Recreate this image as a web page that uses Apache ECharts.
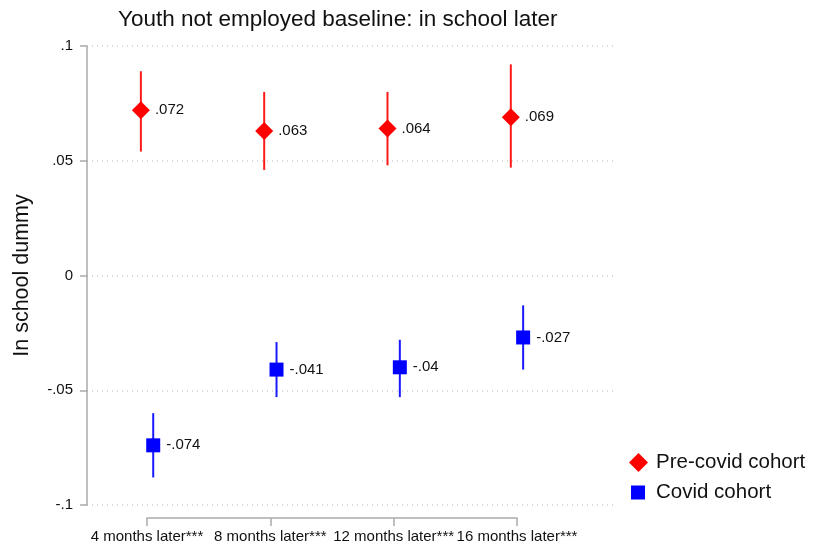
<!DOCTYPE html>
<html lang="en">
  <head>
    <meta charset="UTF-8" />
    <title>Youth not employed baseline: in school later</title>
    <script src="https://cdn.jsdelivr.net/npm/echarts@6/dist/echarts.min.js"></script>
    <style>
      html, body { margin: 0; padding: 0; background: #fff; }
      #box { width: 815px; height: 552px; }
    </style>
  </head>
  <body>
    <div id="box"></div>
  </body>
  <script>
    // categories and estimates
    var categories = ["4 months later***", "8 months later***", "12 months later***", "16 months later***"];
    var preCoef = [0.072, 0.063, 0.064, 0.069];
    var preLow = [0.054, 0.046, 0.048, 0.047];
    var preHigh = [0.089, 0.080, 0.080, 0.092];
    var covCoef = [-0.074, -0.041, -0.04, -0.027];
    var covLow = [-0.088, -0.053, -0.053, -0.041];
    var covHigh = [-0.06, -0.029, -0.028, -0.013];
    var yTicks = [-0.1, -0.05, 0, 0.05, 0.1];

    var FONT = "Liberation Sans";
    var RED = "#ff0000";
    var BLUE = "#0000ff";
    var shift = 0.05; // side-by-side offset of the two cohorts

    // strip leading zero like Stata does (.072, -.041)
    function fmt(v) {
      return String(v).replace("0.", ".");
    }

    function points(vals, dx) {
      return vals.map(function (v, i) {
        return [i + 1 + dx, v];
      });
    }
    function bars(lo, hi, dx) {
      return lo.map(function (v, i) {
        return [i + 1 + dx, v, hi[i]];
      });
    }

    function errBar(color) {
      return function (params, api) {
        var a = api.coord([api.value(0), api.value(1)]);
        var b = api.coord([api.value(0), api.value(2)]);
        return {
          type: "line",
          shape: { x1: a[0], y1: a[1], x2: b[0], y2: b[1] },
          style: { stroke: color, lineWidth: 2 },
        };
      };
    }

    var valueLabel = {
      show: true,
      position: "right",
      distance: 5,
      fontSize: 15,
      color: "#111",
      fontFamily: FONT,
      formatter: function (p) {
        return fmt(p.value[1]);
      },
    };

    var legendText = { fontFamily: FONT, fontSize: 20.5, color: "#111" };

    var myChart = echarts.init(document.getElementById("box"));
    var option = {
      animation: false,
      color: [RED, BLUE],
      textStyle: { fontFamily: FONT },
      title: {
        text: "Youth not employed baseline: in school later",
        left: 113,
        top: 3,
        textStyle: { fontFamily: FONT, fontSize: 22.5, fontWeight: "normal", color: "#111" },
      },
      // two legends so the diamond and the square can have different sizes
      legend: [
        {
          left: 624,
          top: 447,
          itemWidth: 19,
          itemHeight: 19,
          textStyle: Object.assign({ padding: [0, 0, 0, 3] }, legendText),
          data: [{ name: "Pre-covid cohort", icon: "diamond", itemStyle: { color: RED } }],
        },
        {
          left: 626,
          top: 477,
          itemWidth: 14,
          itemHeight: 14,
          textStyle: Object.assign({ padding: [0, 0, 0, 6] }, legendText),
          data: [{ name: "Covid cohort", icon: "rect", itemStyle: { color: BLUE } }],
        },
      ],
      grid: [
        { left: 87, right: 200, top: 46, bottom: 47, outerBoundsMode: "none" },
        { left: 147, right: 298, top: 517, height: 1, outerBoundsMode: "none" },
      ],
      xAxis: [
        {
          type: "value",
          gridIndex: 0,
          min: 0.513,
          max: 4.795,
          show: false,
          splitLine: { show: false },
        },
        {
          type: "value",
          gridIndex: 1,
          min: 1,
          max: 4,
          interval: 1,
          axisLine: { show: true, lineStyle: { color: "#aaa", width: 1.5 } },
          axisTick: { show: true, length: 8, lineStyle: { color: "#aaa", width: 1.5 } },
          splitLine: { show: false },
          axisLabel: {
            margin: 11,
            fontSize: 15,
            color: "#111",
            fontFamily: FONT,
            hideOverlap: false,
            formatter: function (v) {
              return categories[v - 1];
            },
          },
        },
      ],
      yAxis: [
        {
          type: "value",
          gridIndex: 0,
          min: yTicks[0],
          max: yTicks[yTicks.length - 1],
          interval: 0.05,
          name: "In school dummy",
          nameLocation: "middle",
          nameGap: 54,
          nameTextStyle: { fontFamily: FONT, fontSize: 21.5, color: "#111" },
          axisLine: { show: true, lineStyle: { color: "#aaa", width: 1.5 } },
          axisTick: { show: true, length: 7, lineStyle: { color: "#aaa", width: 1.5 } },
          axisLabel: {
            margin: 14,
            fontSize: 15,
            color: "#111",
            fontFamily: FONT,
            formatter: function (v) {
              return fmt(Math.round(v * 100) / 100);
            },
          },
          splitLine: { show: true, lineStyle: { color: "#ccc", type: [1, 4], width: 1.5 } },
        },
        { type: "value", gridIndex: 1, show: false, splitLine: { show: false } },
      ],
      series: [
        {
          name: "Pre-covid cohort",
          type: "custom",
          renderItem: errBar("#ff1a1a"),
          itemStyle: { color: RED },
          data: bars(preLow, preHigh, -shift),
          encode: { x: 0, y: [1, 2] },
          z: 1,
          silent: true,
        },
        {
          name: "Covid cohort",
          type: "custom",
          renderItem: errBar("#1a1aff"),
          itemStyle: { color: BLUE },
          data: bars(covLow, covHigh, shift),
          encode: { x: 0, y: [1, 2] },
          z: 1,
          silent: true,
        },
        {
          name: "Pre-covid cohort",
          type: "scatter",
          symbol: "diamond",
          symbolSize: 18,
          itemStyle: { color: RED, opacity: 1 },
          data: points(preCoef, -shift),
          z: 3,
          label: valueLabel,
        },
        {
          name: "Covid cohort",
          type: "scatter",
          symbol: "rect",
          symbolSize: 14,
          itemStyle: { color: BLUE, opacity: 1 },
          data: points(covCoef, shift),
          z: 3,
          label: Object.assign({}, valueLabel, { distance: 6 }),
        },
      ],
    };
    myChart.setOption(option);
  </script>
</html>
